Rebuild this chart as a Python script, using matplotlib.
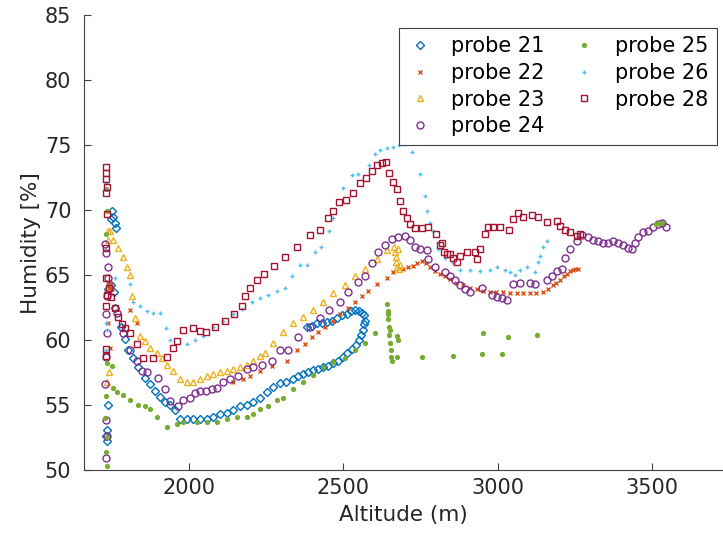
import matplotlib
matplotlib.use("Agg")
import matplotlib.pyplot as plt

# ---------------- data ----------------
labels = ["probe 21", "probe 22", "probe 23", "probe 24", "probe 25", "probe 26", "probe 28"]

alt21 = [1745, 1750, 1752, 1758, 1762, 1738, 1745, 1755, 1735, 1732, 1730, 1733, 1760, 1780,
         1792, 1801, 1818, 1834, 1856, 1872, 1889, 1905, 1921, 1937, 1954, 1970, 1993, 2012, 2035,
         2057, 2077, 2099, 2122, 2142, 2165, 2186, 2207, 2229, 2252, 2271, 2294, 2315, 2337, 2353,
         2369, 2385, 2401, 2417, 2433, 2450, 2466, 2482, 2498, 2513, 2527, 2540, 2550, 2558, 2563,
         2568, 2570, 2566, 2560, 2550, 2538, 2525, 2511, 2495, 2479, 2462, 2446, 2430, 2414, 2398, 2382]
hum21 = [69.3, 69.9, 69.5, 69.0, 68.6, 63.9, 64.2, 63.7, 55.0, 53.1, 52.6, 52.2, 62.5, 61.0,
         60.1, 59.2, 58.6, 57.9, 57.1, 56.6, 56.1, 55.6, 55.2, 55.0, 54.6, 53.9, 53.9, 53.9, 53.9,
         53.9, 54.1, 54.3, 54.4, 54.6, 54.9, 55.0, 55.2, 55.5, 56.0, 56.4, 56.7, 56.8, 57.0, 57.2,
         57.4, 57.5, 57.7, 57.8, 57.9, 58.0, 58.2, 58.4, 58.7, 59.0, 59.3, 59.6, 60.0, 60.4, 60.8,
         61.2, 61.5, 61.9, 62.1, 62.2, 62.3, 62.2, 62.0, 61.9, 61.7, 61.5, 61.4, 61.3, 61.3, 61.1, 61.0]

alt22 = [1735, 1740, 1745, 1750, 1738, 1742, 1808, 1830,
         2142, 2174, 2197, 2229, 2268, 2316, 2350, 2375, 2398, 2417, 2440, 2466, 2488, 2514, 2538,
         2560, 2580, 2609, 2641, 2660, 2693, 2710, 2725, 2740, 2755, 2768, 2781, 2797, 2813, 2829,
         2845, 2866, 2887, 2910, 2932, 2953, 2975, 2996, 3017, 3040, 3062, 3083, 3104, 3125, 3146,
         3163, 3179, 3191, 3202, 3214, 3225, 3235, 3244, 3252, 3260]
hum22 = [64.5, 64.0, 64.3, 63.9, 61.3, 59.4, 62.3, 61.3,
         56.8, 57.0, 57.2, 57.6, 58.0, 58.4, 59.2, 59.7, 60.2, 60.6, 61.0, 61.5, 62.0, 62.5, 62.9,
         63.4, 63.8, 64.3, 64.8, 65.2, 65.5, 65.6, 65.7, 65.9, 66.1, 65.9, 65.6, 65.3, 65.1, 64.9,
         64.7, 64.4, 64.2, 64.0, 63.9, 63.8, 63.7, 63.7, 63.7, 63.6, 63.6, 63.6, 63.6, 63.6, 63.7,
         63.9, 64.2, 64.4, 64.6, 64.9, 65.1, 65.3, 65.4, 65.5, 65.5]

alt23 = [1735, 1738, 1732, 1740,
         1743, 1753, 1769, 1785, 1798, 1808, 1814, 1824, 1840, 1856, 1872, 1895, 1911, 1927, 1948,
         1970, 1993, 2012, 2035, 2057, 2077, 2099, 2122, 2142, 2165, 2186, 2207, 2229, 2245, 2271,
         2303, 2337, 2369, 2401, 2433, 2466, 2504, 2538, 2570, 2609, 2641,
         2665, 2668, 2670, 2672, 2675, 2680, 2685, 2678]
hum23 = [68.4, 67.7, 56.8, 57.5,
         68.4, 67.7, 67.1, 66.4, 65.6, 65.0, 63.4, 61.7, 60.3, 59.9, 59.4, 59.0, 58.6, 58.1, 57.6,
         57.0, 56.8, 56.8, 57.0, 57.2, 57.4, 57.5, 57.6, 57.8, 57.9, 58.1, 58.4, 58.8, 59.0, 59.8,
         60.6, 61.3, 61.8, 62.3, 62.9, 63.6, 64.2, 64.9, 65.5, 66.2, 66.9,
         67.2, 66.8, 66.4, 66.0, 65.6, 65.5, 65.8, 67.0]

alt24 = [1728, 1730, 1732, 1729, 1733, 1731, 1728, 1730, 1732, 1729, 1735, 1737,
         1766, 1785, 1808, 1830, 1847, 1863, 1898, 1921, 1937, 1964, 1980, 2002, 2019, 2035, 2054,
         2073, 2090, 2109, 2132, 2158, 2186, 2207, 2236, 2268, 2294, 2320, 2353, 2392, 2424, 2453,
         2488, 2514, 2547, 2570, 2593, 2612, 2634, 2657, 2676, 2699, 2716, 2732, 2748, 2771, 2774,
         2797, 2829, 2845, 2861, 2877, 2894, 2910, 2949, 2982, 2998, 3014, 3030, 3049, 3072, 3104,
         3120, 3160, 3176, 3192, 3208, 3218, 3234, 3257, 3273, 3292, 3308, 3325, 3342, 3358, 3374,
         3390, 3406, 3422, 3435, 3445, 3455, 3471, 3487, 3503, 3519, 3532, 3545]
hum24 = [67.4, 66.7, 63.4, 62.0, 60.5, 58.7, 56.6, 53.8, 52.6, 50.9, 65.6, 64.8,
         62.1, 60.5, 59.2, 58.4, 57.6, 57.5, 57.1, 56.2, 55.3, 54.9, 55.4, 55.5, 55.9, 56.1, 56.1,
         56.2, 56.3, 56.8, 57.0, 57.2, 57.8, 57.9, 58.1, 58.4, 59.2, 59.2, 60.2, 61.0, 61.7, 62.3,
         62.9, 63.7, 64.5, 64.9, 65.9, 66.8, 67.3, 67.8, 67.9, 68.0, 67.7, 67.2, 67.0, 66.9, 66.2,
         65.6, 65.2, 64.9, 64.6, 64.2, 63.9, 63.7, 64.0, 63.5, 63.3, 63.2, 63.1, 64.3, 64.4, 64.4,
         64.3, 64.6, 64.9, 65.3, 65.5, 66.3, 67.0, 67.6, 68.1, 67.9, 67.7, 67.6, 67.5, 67.5, 67.6,
         67.5, 67.3, 67.1, 67.0, 67.5, 67.9, 68.3, 68.4, 68.7, 68.9, 69.0, 68.7]

alt25 = [1730, 1732, 1729, 1733, 1731, 1728, 1730, 1732, 1734,
         1750, 1753, 1766, 1785, 1808, 1834, 1856, 1872, 1895, 1927, 1960, 1980, 2025, 2057, 2090,
         2122, 2155, 2186, 2207, 2229, 2255, 2284, 2303, 2337, 2369, 2401, 2433, 2466, 2504, 2538,
         2570, 2602,
         2641, 2643, 2645, 2647, 2649, 2651, 2653, 2655, 2657, 2645, 2650,
         2673, 2673, 2676, 2755, 2856, 2949, 2953, 3014, 3033, 3127,
         3515, 3525, 3532]
hum25 = [71.6, 69.9, 68.2, 58.2, 55.7, 54.0, 51.4, 50.3, 52.5,
         58.0, 56.3, 56.0, 55.8, 55.4, 55.0, 54.9, 54.7, 54.1, 53.3, 53.5, 53.7, 53.7, 53.7, 53.7,
         53.9, 54.1, 54.1, 54.3, 54.7, 54.9, 55.4, 55.5, 56.2, 56.8, 57.3, 57.9, 58.3, 58.6, 59.2,
         59.8, 60.5,
         62.8, 62.2, 61.6, 61.0, 60.4, 59.8, 59.2, 58.7, 58.4, 62.0, 60.8,
         60.3, 58.7, 60.0, 58.7, 58.8, 58.9, 60.5, 58.9, 60.2, 60.4,
         68.9, 69.0, 69.0]

alt26 = [1730, 1732, 1729, 1733, 1731,
         1759, 1808, 1818, 1840, 1863, 1882, 1905, 1924, 1937, 1993, 2019, 2044, 2077, 2109, 2142,
         2171, 2203, 2229, 2255, 2284, 2310, 2333, 2359, 2382, 2408, 2427, 2453, 2466, 2498, 2528,
         2547, 2583, 2602, 2620, 2640, 2660, 2680, 2695, 2723, 2749, 2764, 2771, 2781, 2791, 2806,
         2829, 2856, 2877, 2910, 2943, 2975, 2998, 3024, 3040, 3056, 3072, 3096, 3120, 3131, 3137,
         3147, 3160]
hum26 = [72.1, 71.6, 61.3, 60.8, 59.2,
         64.8, 64.3, 62.9, 62.6, 62.2, 62.1, 62.1, 60.9, 60.0, 59.7, 60.0, 60.3, 61.0, 61.5, 62.0,
         62.4, 62.9, 63.2, 63.5, 63.8, 64.0, 64.9, 65.8, 65.8, 66.8, 67.2, 68.4, 69.4, 71.7, 72.7,
         72.8, 73.5, 74.3, 74.6, 74.8, 74.9, 75.0, 75.1, 74.5, 72.8, 71.1, 69.9, 69.0, 68.4, 67.0,
         66.3, 65.9, 65.4, 65.4, 65.3, 65.4, 65.6, 65.4, 65.2, 65.0, 65.4, 65.6, 65.2, 66.0, 66.5,
         67.2, 67.6]

alt28 = [1730, 1731, 1729, 1732, 1730, 1733, 1731, 1729, 1732, 1730, 1731, 1729,
         1740, 1745, 1760, 1770,
         1782, 1792, 1808, 1830, 1850, 1882, 1927, 1948, 1960, 1980, 2012, 2035, 2054, 2083, 2115,
         2145, 2171, 2181, 2197, 2220, 2242, 2274, 2310, 2350, 2392, 2424, 2450, 2466, 2485, 2508,
         2530, 2554, 2573, 2593, 2609, 2624, 2638, 2647, 2660, 2673, 2683, 2693, 2705, 2715, 2731,
         2755, 2774, 2800,
         2813, 2820, 2825, 2835, 2845, 2855, 2868, 2877, 2900, 2926, 2932, 2943,
         2959, 2969, 2985, 3007, 3036, 3049, 3065, 3082, 3111, 3131, 3160, 3192, 3202, 3218, 3234,
         3257, 3266]
hum28 = [73.3, 72.9, 72.4, 71.8, 71.3, 69.7, 67.1, 64.8, 63.5, 62.6, 59.3, 58.8,
         64.0, 63.3, 62.5, 61.8,
         61.2, 60.9, 60.5, 59.7, 58.6, 58.6, 58.7, 59.4, 59.9, 60.8, 60.9, 60.7, 60.6, 61.0, 61.5,
         62.0, 62.6, 63.4, 64.0, 64.6, 65.1, 65.7, 66.4, 67.2, 68.1, 68.5, 69.4, 69.9, 70.6, 70.8,
         71.3, 72.1, 72.5, 73.0, 73.5, 73.6, 73.7, 72.9, 72.2, 71.6, 70.7, 69.9, 69.4, 68.9, 68.6,
         68.6, 68.7, 68.2,
         67.3, 67.5, 66.8, 66.6, 66.6, 66.3, 66.0, 66.5, 66.8, 66.8, 66.2, 67.0,
         68.2, 68.7, 68.7, 68.7, 68.5, 69.3, 69.8, 69.5, 69.6, 69.5, 69.1, 69.2, 68.8, 68.5, 68.3,
         68.0, 68.2]

series_x = [alt21, alt22, alt23, alt24, alt25, alt26, alt28]
series_y = [hum21, hum22, hum23, hum24, hum25, hum26, hum28]

colors = ["#0072BD", "#D95319", "#EDB120", "#7E2F8E", "#77AC30", "#4DBEEE", "#A2142F"]
markers = ["D", "x", "^", "o", ".", "+", "s"]
msizes = [3.6, 3.0, 5.0, 5.0, 5.5, 3.5, 4.2]
filled = [False, True, False, False, True, True, False]

plt.rcParams["font.family"] = ["DejaVu Sans"]

fig = plt.figure(figsize=(7.23, 5.37), dpi=100)
ax = fig.add_axes([0.1159, 0.1251, 0.8841, 0.8462])

for xs, ys, c, m, s, f, lab in zip(series_x, series_y, colors, markers, msizes, filled, labels):
    ax.plot(xs, ys, linestyle="none", marker=m, markersize=s,
            markerfacecolor=(c if f else "none"), markeredgecolor=c,
            markeredgewidth=1.0, label=lab)

ax.set_xlim(1658, 3731)
ax.set_ylim(50, 85)
ax.set_xticks([2000, 2500, 3000, 3500])
ax.set_yticks([50, 55, 60, 65, 70, 75, 80, 85])

for side in ["top", "right"]:
    ax.spines[side].set_visible(False)
for side in ["left", "bottom"]:
    ax.spines[side].set_color("#404040")
    ax.spines[side].set_linewidth(0.8)

ax.tick_params(direction="in", length=5, width=0.8, colors="#404040",
               labelcolor="#262626", labelsize=15)
ax.tick_params(axis="y", pad=9)
ax.tick_params(axis="x", pad=6)
ax.set_xlabel("Altitude (m)", fontsize=15.5, color="#262626", labelpad=5)
ax.set_ylabel("Humidity [%]", fontsize=15.5, color="#262626", labelpad=3)

leg = ax.legend(ncol=2, loc="upper right", bbox_to_anchor=(717 / 723, 1 - 28 / 537),
                bbox_transform=fig.transFigure, fontsize=15, frameon=True, fancybox=False,
                framealpha=1, edgecolor="#404040", handlelength=1.2, handletextpad=0.9,
                columnspacing=1.3, labelspacing=0.32, borderpad=0.4, borderaxespad=0,
                markerscale=1.0)
leg.get_frame().set_linewidth(0.8)

fig.savefig("out.png", dpi=100)
